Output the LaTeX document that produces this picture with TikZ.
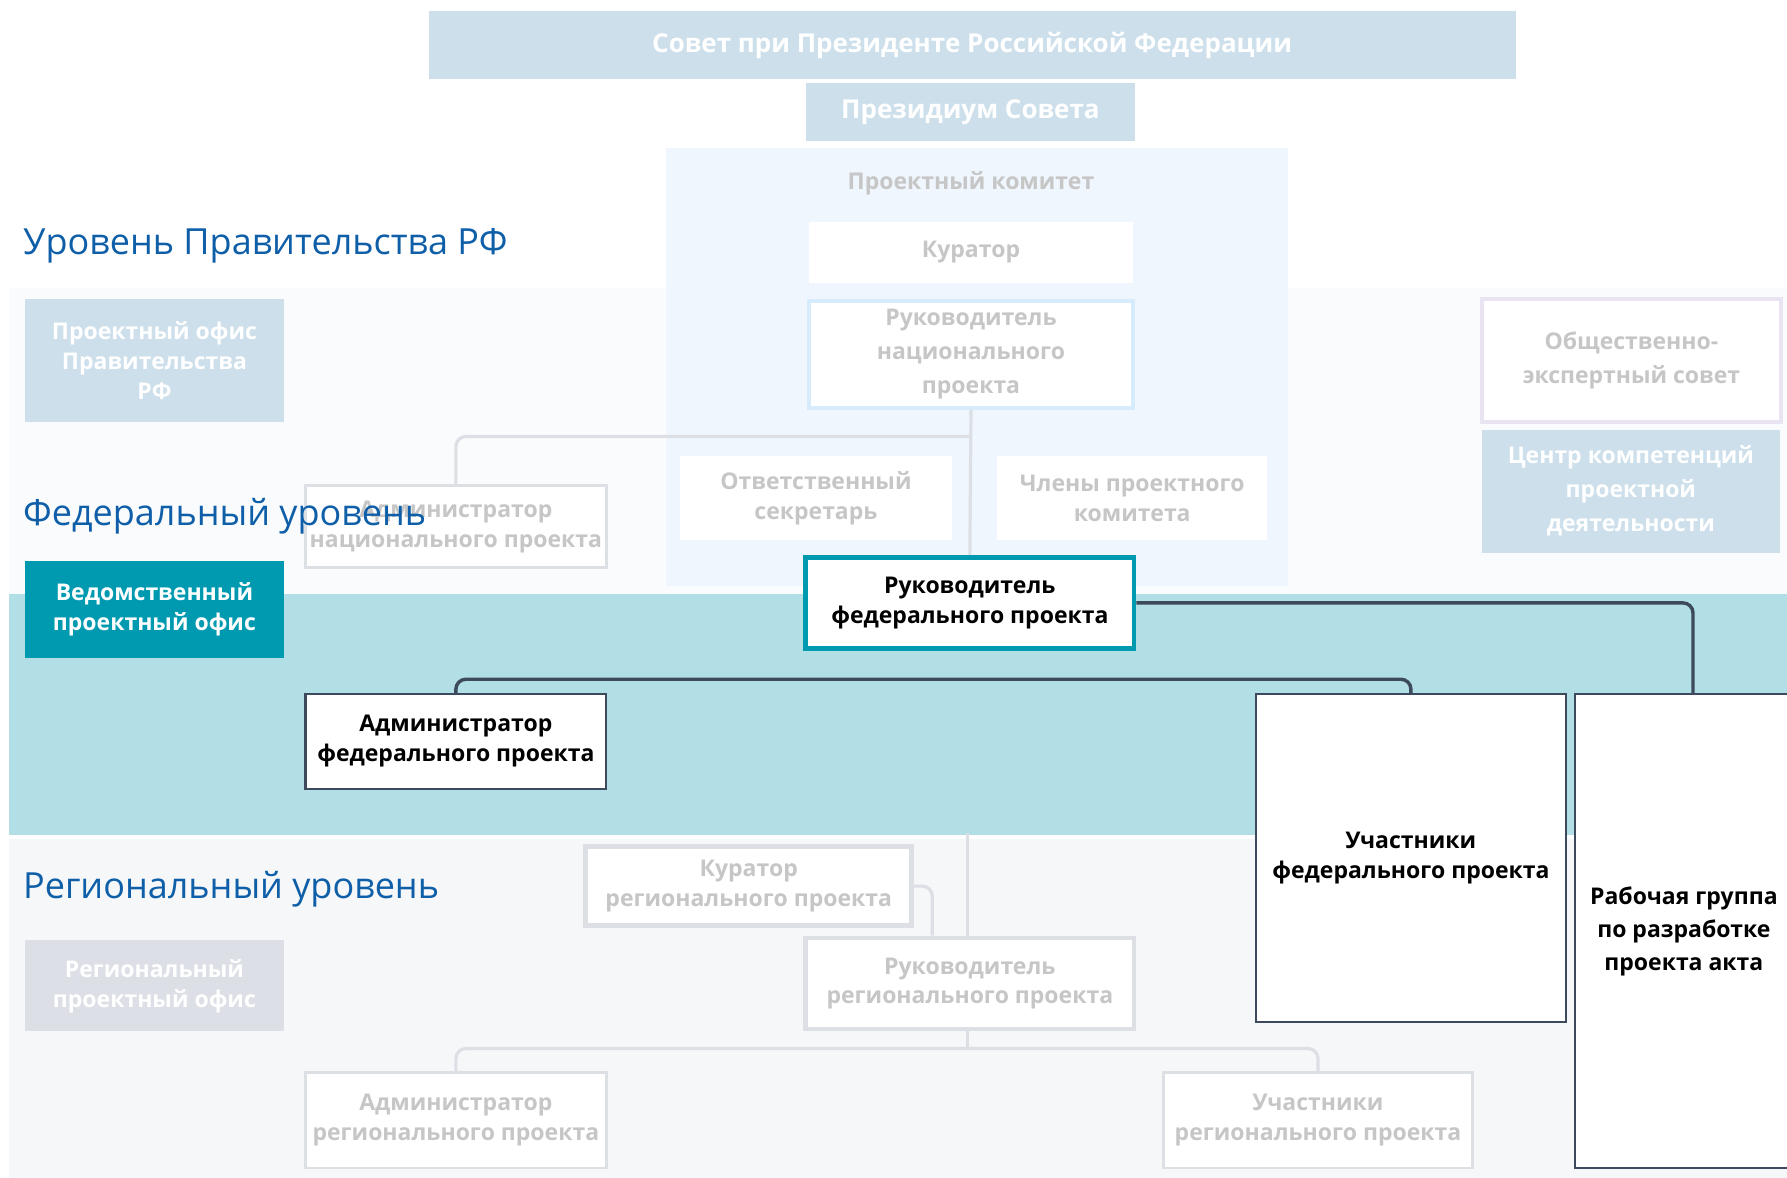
\documentclass[tikz,border=0pt]{standalone}
\usepackage{fontspec}
\setmainfont{Open Sans}
\usetikzlibrary{calc}

\definecolor{hellblau}{HTML}{CCDFEB}
\definecolor{tuerkis}{HTML}{009AB0}
\definecolor{tuerkisband}{HTML}{B2DFE5}
\definecolor{dunkel}{HTML}{3D4A5E}
\definecolor{grautext}{HTML}{C6C6C6}
\definecolor{graurand}{HTML}{DCDFE4}
\definecolor{blasszone}{HTML}{F9FBFD}
\definecolor{komitee}{HTML}{EFF6FD}
\definecolor{regzone}{HTML}{F5F7F9}
\definecolor{regbox}{HTML}{DCDFE5}
\definecolor{ebeneblau}{HTML}{0E5EA8}
\definecolor{lila}{HTML}{EAE4F2}
\definecolor{nrand}{HTML}{D6EBFB}

\begin{document}
\begin{tikzpicture}[x=0.57pt,y=-0.57pt,
  box/.style={inner sep=0pt,align=center,font=\bfseries\fontsize{11.5}{15}\selectfont},
  feld/.style 2 args={minimum width=#1*0.57pt,minimum height=#2*0.57pt},
  hell/.style={box,fill=hellblau,text=white},
  grau/.style={box,fill=white,text=grautext},
  aktiv/.style={box,fill=white,draw=dunkel,line width=1.1pt,text=black},
  ebene/.style={anchor=west,inner sep=0pt,text=ebeneblau,font=\fontsize{18}{22}\selectfont},
  grauline/.style={draw=graurand,line width=1.6pt,rounded corners=5},
  dunkelline/.style={draw=dunkel,line width=1.7pt,rounded corners=5}]

\useasboundingbox (0,0) rectangle (1568,1033.6);

% Hintergrund
\fill[blasszone] (8,253) rectangle (1568,521);
\fill[komitee] (584,130) rectangle (1130,514);
\fill[tuerkisband] (8,521) rectangle (1568,733);
\fill[regzone] (8,736) rectangle (1568,1034);

% Praesident und Komitee
\node (sovet) at (853,39.5) [hell,feld={954}{59},font=\bfseries\fontsize{13}{16}\selectfont] {Совет при Президенте Российской Федерации};
\node (praes) at (851.5,98.5) [hell,feld={289}{51},font=\bfseries\fontsize{13}{16}\selectfont] {Президиум Совета};
\node (komt) at (852,161) [box,text=grautext] {Проектный комитет};
\node (kur) at (852,221.5) [grau,feld={284}{53}] {Куратор};
\node (rnp) at (852,311) [grau,feld={284}{94},draw=nrand,line width=1.7pt,font=\bfseries\fontsize{11.5}{17}\selectfont] {Руководитель\\национального\\проекта};
\node (sek) at (716,437) [grau,feld={238}{74}] {Ответственный\\секретарь};
\node (mit) at (993.5,437) [grau,feld={237}{74}] {Члены проектного\\комитета};
\node (anp) at (400,462) [grau,feld={264}{72},draw=graurand,line width=1.2pt] {Администратор\\национального проекта};

% Bueros links und rechts
\node (pog) at (135.5,316) [hell,feld={227}{108}] {Проектный офис\\Правительства\\РФ};
\node (vpo) at (135.5,534.5) [box,feld={227}{85},fill=tuerkis,text=white] {Ведомственный\\проектный офис};
\node (rpo) at (135.5,865) [box,feld={227}{80},fill=regbox,text=white] {Региональный\\проектный офис};
\node (oes) at (1431.5,316) [grau,feld={263}{108},draw=lila,line width=2pt,font=\bfseries\fontsize{11.5}{17}\selectfont] {Общественно-\\экспертный совет};
\node (zkp) at (1431,431) [hell,feld={262}{108},font=\bfseries\fontsize{11.5}{17}\selectfont] {Центр компетенций\\проектной\\деятельности};

% Federale Ebene
\node (rfp) at (851,529) [aktiv,feld={288}{80},draw=tuerkis,line width=2.4pt] {Руководитель\\федерального проекта};
\node (afp) at (400,650.5) [aktiv,feld={264}{83}] {Администратор\\федерального проекта};
\node (ufp) at (1238,753) [aktiv,feld={272}{288}] {Участники\\федерального проекта};
\node (rg) at (1477.5,817) [aktiv,feld={191}{416},font=\bfseries\fontsize{11.5}{16.5}\selectfont] {Рабочая группа\\по разработке\\проекта акта};

% Regionale Ebene
\node (krp) at (657,777.5) [grau,feld={286}{69},draw=graurand,line width=2.3pt] {Куратор\\регионального проекта};
\node (rrp) at (851,863) [grau,feld={288}{80},draw=graurand,line width=2.3pt] {Руководитель\\регионального проекта};
\node (arp) at (400,983) [grau,feld={264}{84},draw=graurand,line width=1.2pt] {Администратор\\регионального проекта};
\node (urp) at (1156.5,983) [grau,feld={271}{84},draw=graurand,line width=1.2pt] {Участники\\регионального проекта};

% Verbindungen
\coordinate (nk) at (851,383);
\draw[grauline] (rnp.south) -- (rfp.north);
\draw[grauline] (anp.north) |- (nk);

\coordinate (fk) at (851,596);
\draw[dunkelline] (afp.north) |- (fk) -| (ufp.north);
\draw[dunkelline] (rfp.east) -| ($(rg.north)+(8,0)$);

\coordinate (tb) at ($(rrp.north)+(-2,-90)$);
\coordinate (rk) at ($(rrp.south)+(-2,15)$);
\draw[grauline] (tb) -- (tb |- rrp.north);
\draw[grauline] (krp.east) -| ($(rrp.north)+(-33,0)$);
\draw[grauline] (rk |- rrp.south) -- (rk);
\draw[grauline] (arp.north) |- (rk) -| (urp.north);

% Ebenen
\node (ebr) at (20,216) [ebene] {Уровень Правительства РФ};
\node (ebf) at (20,453) [ebene] {Федеральный уровень};
\node (ebg) at (20,780) [ebene] {Региональный уровень};

\end{tikzpicture}
\end{document}
